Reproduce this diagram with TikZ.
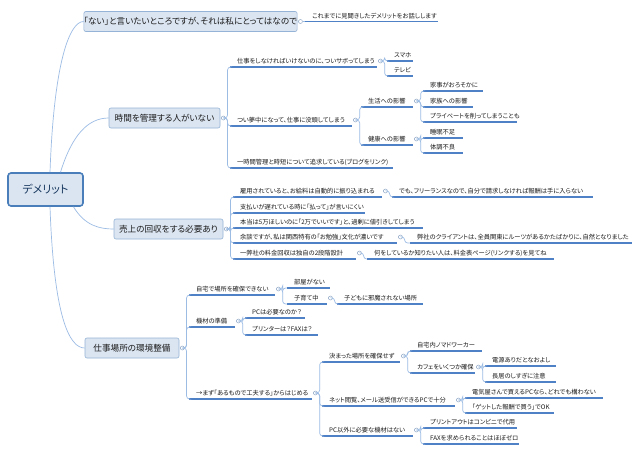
\documentclass[tikz,border=0pt]{standalone}
\usepackage{fontspec}
\setmainfont[RawFeature=+palt]{Noto Sans CJK JP}
\definecolor{rootfill}{HTML}{DBE5F1}
\definecolor{rootdraw}{HTML}{4A7EBB}
\definecolor{topdraw}{HTML}{95B3D7}
\definecolor{connc}{HTML}{9CBCE4}
\definecolor{ulc}{HTML}{4F81C6}
\definecolor{knobc}{HTML}{8FA8C8}
\definecolor{txt}{HTML}{1A1A1A}
\definecolor{roottxt}{HTML}{17375E}
\newcommand\mmsub[5]{\node[subn] (#1) at (#2,#4) {\makebox[\dimexpr#3pt-#2pt\relax][l]{\hspace{7pt}#5}};
  \draw[uline] (#1.south west) -- (#1.south east);}
\newcommand\mmknob[1]{\node[knob] (k#1) at ([xshift=3pt,yshift=6pt]#1.south east) {};}
\newcommand\mmlink[2]{\draw[conn] (k#1.east) -- ++(2pt,0) |- (#2.south west);}
\begin{document}
\begin{tikzpicture}[x=1pt,y=-1pt,
  rootbox/.style={draw=rootdraw,line width=1.6pt,fill=rootfill,rounded corners=3pt,minimum width=75pt,minimum height=33pt,inner sep=0pt,font=\fontsize{11}{13}\selectfont,text=roottxt},
  topicbox/.style={draw=topdraw,line width=0.6pt,fill=rootfill,rounded corners=2pt,minimum height=20pt,inner sep=0pt,font=\fontsize{8.6}{10}\selectfont,text=txt},
  subn/.style={anchor=south west,inner sep=0pt,text height=5.2pt,text depth=1.4pt,inner ysep=1.6pt,font=\fontsize{6.25}{7.5}\selectfont,text=txt},
  uline/.style={draw=ulc,line width=1.2pt},
  conn/.style={draw=connc,line width=0.7pt,rounded corners=3pt},
  knob/.style={circle,draw=knobc,fill=white,line width=0.5pt,minimum size=4pt,inner sep=0pt}]
\useasboundingbox[fill=white] (0,0) rectangle (640,453);
% root and topics
\node[rootbox] (root) at (45.5,189.5) {デメリット};
\node[topicbox,minimum width=209pt] (T1) at (190.5,21.5) {「ない」と言いたいところですが、それは私にとってはなので};
\node[topicbox,minimum width=111pt] (T2) at (164.5,118) {時間を管理する人がいない};
\node[topicbox,minimum width=109pt] (T3) at (168.5,229) {売上の回収をする必要あり};
\node[topicbox,minimum width=94pt] (T4) at (132,348) {仕事場所の環境整備};
\draw[conn] ([xshift=4.5pt]root.north) .. controls (54,60) and (70,21.5) .. (T1.west);
\draw[conn] ([xshift=15pt]root.north) .. controls (72,135) and (88,118) .. (T2.west);
\draw[conn] ([xshift=28pt]root.south) .. controls (85,226) and (100,229) .. (T3.west);
\draw[conn] ([xshift=4.5pt]root.south) .. controls (54,320) and (70,348) .. (T4.west);
\foreach \t in {T1,T2,T3,T4}{\node[knob] (k\t) at ([xshift=3pt]\t.east) {};}
% topic 1
\mmsub{s11}{305}{438}{21.5}{これまでに見聞きしたデメリットをお話しします}
\draw[conn] (kT1.east) -- (s11.south west);
% topic 2
\mmsub{s21}{230}{377}{67}{仕事をしなければいけないのに、ついサボってしまう}
\mmsub{s211}{387}{413}{61}{スマホ}
\mmsub{s212}{387}{413}{76}{テレビ}
\mmsub{s22}{230}{352}{126}{つい夢中になって、仕事に没頭してしまう}
\mmsub{s221}{361}{413}{107}{生活への影響}
\mmsub{s2211}{423}{483}{91}{家事がおろそかに}
\mmsub{s2212}{423}{473}{107}{家族への影響}
\mmsub{s2213}{423}{517}{122}{プライベートを削ってしまうことも}
\mmsub{s222}{361}{413}{145}{健康への影響}
\mmsub{s2221}{423}{463}{138}{睡眠不足}
\mmsub{s2222}{423}{463}{153}{体調不良}
\mmsub{s23}{230}{393}{168}{一時間管理と時短について追求している(ブログをリンク)}
\foreach \n in {s21,s22,s221,s222}{\mmknob{\n}}
\foreach \c in {s21,s22,s23}{\draw[conn] (kT2.east) -- ++(2pt,0) |- (\c.south west);}
\mmlink{s21}{s211}\mmlink{s21}{s212}
\mmlink{s22}{s221}\mmlink{s22}{s222}
\mmlink{s221}{s2211}\mmlink{s221}{s2212}\mmlink{s221}{s2213}
\mmlink{s222}{s2221}\mmlink{s222}{s2222}
% topic 3
\mmsub{s31}{233}{382}{197}{雇用されていると、お給料は自動的に振り込まれる}
\mmsub{s311}{392}{593}{197}{でも、フリーランスなので、自分で請求しなければ報酬は手に入らない}
\mmsub{s32}{233}{365}{213}{支払いが遅れている時に「払って」が言いにくい}
\mmsub{s33}{233}{423}{228}{本当は5万ほしいのに「2万でいいです」と、過剰に値引きしてしまう}
\mmsub{s34}{233}{397}{243}{余談ですが、私は関西特有の「お勉強」文化が濃いです}
\mmsub{s341}{410}{632}{243}{弊社のクライアントは、全員関東にルーツがあるかたばかりに、自然となりました}
\mmsub{s35}{233}{356}{259}{一弊社の料金回収は独自の2段階設計}
\mmsub{s351}{367}{554}{259}{何をしているか知りたい人は、料金表ページ(リンクする)を見てね}
\foreach \n in {s31,s34,s35}{\mmknob{\n}}
\foreach \c in {s31,s32,s33,s34,s35}{\draw[conn] (kT3.east) -- ++(2pt,0) |- (\c.south west);}
\mmlink{s31}{s311}\mmlink{s34}{s341}\mmlink{s35}{s351}
% topic 4
\mmsub{s41}{189}{275}{295}{自宅で場所を確保できない}
\mmsub{s411}{287}{330}{288}{部屋がない}
\mmsub{s412}{287}{327}{304}{子育て中}
\mmsub{s4121}{337}{423}{304}{子どもに邪魔されない場所}
\mmsub{s42}{189}{235}{327}{機材の準備}
\mmsub{s421}{245}{305}{318}{PCは必要なのか？}
\mmsub{s422}{245}{318}{335}{プリンターは？FAXは？}
\mmsub{s43}{189}{312}{399}{→まず「あるもので工夫する」からはじめる}
\mmsub{s431}{322}{400}{362}{決まった場所を確保せず}
\mmsub{s4311}{410}{482}{351}{自宅内ノマドワーカー}
\mmsub{s4312}{410}{475}{373}{カフェをいくつか確保}
\mmsub{s43121}{485}{556}{366}{電源ありだとなおよし}
\mmsub{s43122}{485}{556}{382}{長居のしすぎに注意}
\mmsub{s432}{322}{455}{406}{ネット閲覧、メール送受信ができるPCで十分}
\mmsub{s4321}{465}{603}{398}{電気屋さんで買えるPCなら、どれでも構わない}
\mmsub{s4322}{465}{554}{413}{「ゲットした報酬で買う」でOK}
\mmsub{s433}{322}{413}{436}{PC以外に必要な機材はない}
\mmsub{s4331}{423}{517}{428}{プリントアウトはコンビニで代用}
\mmsub{s4332}{423}{519}{444}{FAXを求められることはほぼゼロ}
\foreach \n in {s41,s412,s42,s43,s431,s4312,s432,s433}{\mmknob{\n}}
\foreach \c in {s41,s42,s43}{\draw[conn] (kT4.east) -- ++(2pt,0) |- (\c.south west);}
\mmlink{s41}{s411}\mmlink{s41}{s412}\mmlink{s412}{s4121}
\mmlink{s42}{s421}\mmlink{s42}{s422}
\mmlink{s43}{s431}\mmlink{s43}{s432}\mmlink{s43}{s433}
\mmlink{s431}{s4311}\mmlink{s431}{s4312}
\mmlink{s4312}{s43121}\mmlink{s4312}{s43122}
\mmlink{s432}{s4321}\mmlink{s432}{s4322}
\mmlink{s433}{s4331}\mmlink{s433}{s4332}
\end{tikzpicture}
\end{document}
